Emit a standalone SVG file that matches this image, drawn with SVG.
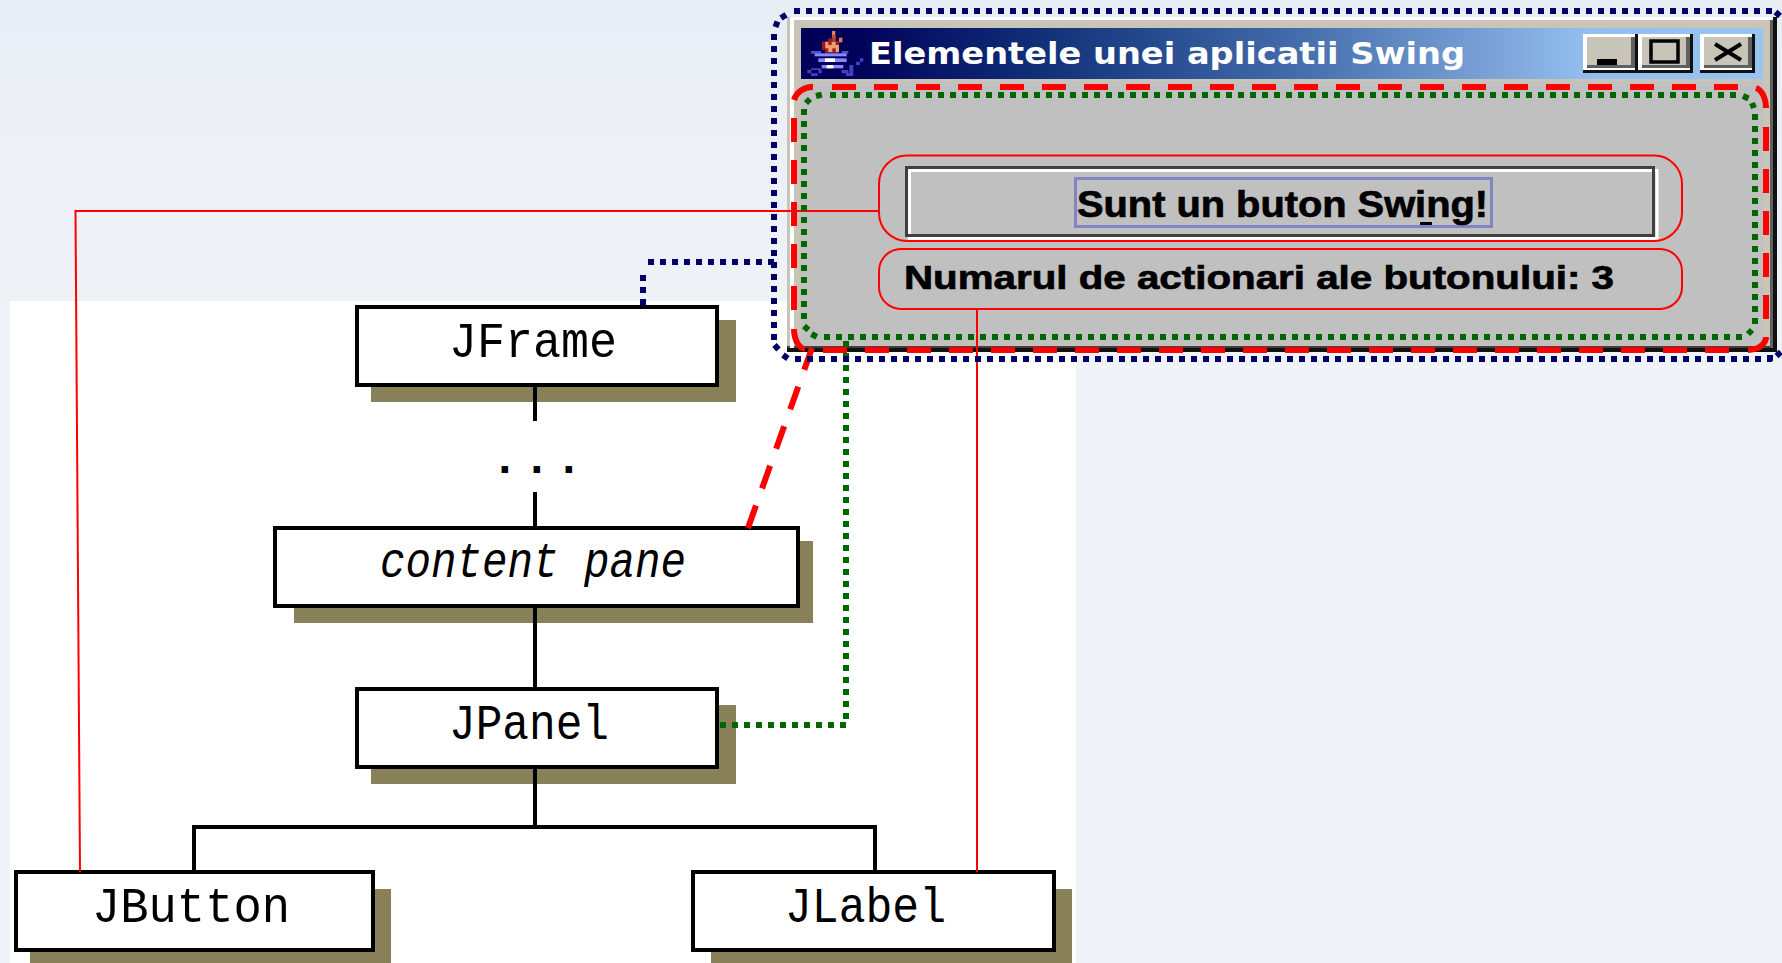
<svg xmlns="http://www.w3.org/2000/svg" width="1782" height="963" viewBox="0 0 1782 963">
<style>
.shadow{fill:#888058}
.box{fill:#fff;stroke:#000;stroke-width:4}
.nt{font-family:"Liberation Mono",monospace;font-size:50px;fill:#000}
.tree{fill:none;stroke:#000;stroke-width:4}
.blue{fill:none;stroke:#000066;stroke-width:6;stroke-dasharray:6 6}
.green{fill:none;stroke:#006600;stroke-width:6;stroke-dasharray:6 6}
.reddash{fill:none;stroke:#ff0000;stroke-width:6;stroke-dasharray:24 18}
.redarc{fill:none;stroke:#ff0000;stroke-width:6}
.thin{fill:none;stroke:#ff0000;stroke-width:2}
.pill{fill:none;stroke:#ff0000;stroke-width:2}
.st{font-family:"Liberation Sans",Arial,sans-serif;font-weight:bold;fill:#000;stroke:#000;stroke-width:0.7}
.face{fill:#c8c4b8}
.w{fill:#fff}.k{fill:#111}.g{fill:#606060}
</style>
<defs>
<linearGradient id="bg" x1="0" y1="0" x2="0" y2="1"><stop offset="0" stop-color="#e8ecf4"/><stop offset="0.12" stop-color="#ecf0f6"/><stop offset="0.35" stop-color="#eff2f7"/><stop offset="1" stop-color="#eff2f7"/></linearGradient>
<linearGradient id="tb" gradientUnits="userSpaceOnUse" x1="801" y1="0" x2="1763" y2="0"><stop offset="0" stop-color="#000058"/><stop offset="0.05" stop-color="#000058"/><stop offset="0.248" stop-color="#103078"/><stop offset="0.498" stop-color="#4068a8"/><stop offset="0.74" stop-color="#80a8dc"/><stop offset="0.81" stop-color="#92bcee"/><stop offset="1" stop-color="#99c4f0"/></linearGradient>
<g id="wb"><rect class="k" x="0" y="0" width="55" height="39"/><rect class="w" x="0" y="0" width="52" height="36"/><rect class="face" x="4" y="3" width="48" height="31"/><rect class="g" x="48" y="3" width="4" height="31"/><rect class="g" x="4" y="31" width="48" height="3"/></g>
</defs>
<rect width="1782" height="963" fill="url(#bg)"/>
<rect x="10" y="301" width="1066" height="662" fill="#fff"/>

<g id="JFrame"><rect class="shadow" x="371" y="320" width="365" height="82"/><rect class="box" x="357" y="307" width="360" height="78"/><text class="nt" x="449" y="357" textLength="168" lengthAdjust="spacingAndGlyphs">JFrame</text></g>
<g id="ellipsis"><text class="nt" font-weight="bold" style="font-size:46px" x="491 523 555" y="473">...</text></g>
<g id="contentPane"><rect class="shadow" x="294" y="541" width="519" height="82"/><rect class="box" x="275" y="528" width="523" height="78"/><text class="nt" font-style="italic" x="380" y="577" textLength="306" lengthAdjust="spacingAndGlyphs">content pane</text></g>
<g id="JPanel"><rect class="shadow" x="371" y="705" width="365" height="79"/><rect class="box" x="357" y="689" width="360" height="78"/><text class="nt" x="449" y="739" textLength="160" lengthAdjust="spacingAndGlyphs">JPanel</text></g>
<g id="JButton"><rect class="shadow" x="30" y="889" width="361" height="74"/><rect class="box" x="16" y="872" width="357" height="78"/><text class="nt" x="92" y="922" textLength="198" lengthAdjust="spacingAndGlyphs">JButton</text></g>
<g id="JLabel"><rect class="shadow" x="711" y="889" width="361" height="74"/><rect class="box" x="693" y="872" width="361" height="78"/><text class="nt" x="785" y="922" textLength="161" lengthAdjust="spacingAndGlyphs">JLabel</text></g>

<g id="window">
<rect class="k" x="787" y="17" width="990" height="335"/>
<rect class="face" x="787" y="17" width="986" height="331"/>
<rect x="787" y="346" width="986" height="2" fill="#404040"/>
<rect x="1770" y="20" width="3" height="328" fill="#606060"/>
<rect class="w" x="790" y="17" width="983" height="3"/>
<rect class="w" x="790" y="17" width="4" height="331"/>
<rect x="801" y="28" width="962" height="51" fill="url(#tb)"/>
<rect x="801" y="82" width="962" height="263" fill="#c0c0c0"/>
<g id="javaIcon" transform="translate(800 25) scale(0.3333)">
<rect x="75" y="50" width="42" height="32" fill="#e8a070"/><rect x="96" y="18" width="10" height="22" fill="#e08050"/><rect x="117" y="38" width="10" height="14" fill="#e08050"/><rect x="85" y="40" width="12" height="10" fill="#a81818"/><rect x="97" y="30" width="10" height="20" fill="#c04030"/><rect x="66" y="50" width="10" height="24" fill="#a81818"/><rect x="75" y="70" width="10" height="12" fill="#a81818"/><rect x="107" y="50" width="10" height="10" fill="#a81818"/><rect x="97" y="70" width="10" height="12" fill="#a81818"/><rect x="85" y="50" width="10" height="10" fill="#a81818"/>
<rect x="33" y="78" width="30" height="8" fill="#5050c8"/><rect x="125" y="78" width="20" height="8" fill="#5050c8"/><rect x="44" y="85" width="96" height="9" fill="#8888ff"/><rect x="55" y="100" width="85" height="11" fill="#8888ff"/><rect x="75" y="100" width="30" height="11" fill="#fff"/><rect x="65" y="120" width="65" height="10" fill="#8888ff"/><rect x="80" y="120" width="20" height="10" fill="#fff"/>
<path d="M22 135h12v10h-12zM33 130h30v5h-30zM33 145h20v8h-20zM55 135h10v10h-10zM125 135h20v10h-20zM148 120h12v25h-12zM138 145h22v8h-22zM168 110h12v10h-12zM180 100h10v10h-10z" fill="#4040c0"/>
</g>
<text x="869" y="64" font-family="'DejaVu Sans',sans-serif" font-weight="bold" font-size="31" fill="#fff" textLength="596" lengthAdjust="spacingAndGlyphs">Elementele unei aplicatii Swing</text>
<use href="#wb" x="1583" y="34"/><use href="#wb" x="1638" y="34"/><use href="#wb" x="1700" y="34"/>
<rect x="1597" y="59" width="20" height="6" fill="#000"/>
<rect x="1651" y="41" width="27" height="21" fill="none" stroke="#000" stroke-width="3.5"/>
<path d="M1715 44L1741 60M1741 44L1715 60" fill="none" stroke="#000" stroke-width="4"/>
</g>

<g id="swingButton">
<path d="M909.5 170.5H1657V238.5H909.5Z" fill="none" stroke="#fff" stroke-width="3"/>
<rect x="906.5" y="167.5" width="747" height="68" fill="none" stroke="#404040" stroke-width="3"/>
<rect x="1075.5" y="178.5" width="416" height="48" fill="none" stroke="#8484c4" stroke-width="3"/>
<text class="st" x="1077" y="217" font-size="36" textLength="411" lengthAdjust="spacingAndGlyphs">Sunt un buton Swing!</text>
<rect x="1420" y="222" width="12" height="3" fill="#000"/>
<rect class="pill" x="879" y="155.5" width="803" height="85.5" rx="28"/>
</g>
<g id="swingLabel">
<text class="st" x="904" y="289" font-size="34" textLength="710" lengthAdjust="spacingAndGlyphs">Numarul de actionari ale butonului: 3</text>
<rect class="pill" x="879" y="249" width="803" height="60" rx="22"/>
</g>

<g id="connectors">
<path class="tree" d="M535 387V421M535 492V528M535 608V689M535 769V827M194 872V827H875V872"/>
<path class="thin" d="M879 211H75.500L80 872"/>
<path class="thin" d="M977 309V872"/>
<path class="reddash" d="M748 528L812 348"/>
<path class="green" d="M720 725H846V338"/>
<path class="blue" d="M643 305V270"/>
<path class="blue" d="M648 262H775"/>
</g>

<g id="frameOutline"><path class="blue" d="M794 11H1772M774 34V343M795 359H1772M775.5 27L777.5 21.5M781 18L786.5 14.5M1775.5 12L1780 16M774.5 345L779 350M783 355L788 358.5M1767 358L1773 358M1776.5 356L1781 352"/></g>
<g id="rootPaneOutline"><path class="reddash" d="M832 87H1738M1766 127V319M823 350H1729M794 118V310"/><path class="redarc" d="M813 87A19 19 0 0 0 794 100M1756 88A13 20 0 0 1 1766 108M1766 337A18 13 0 0 1 1748 350M794 329A12 20 0 0 0 805 349"/></g>
<g id="contentPaneOutline"><path class="green" d="M830 95H1736M804 109V320M1755 114V325M824 337H1743M816 96L822 94.5M806 103L810 99M1743 96L1748.5 98.5M1752 103L1754 108M1748 334L1752 330M804 326L808.5 330M811.5 334L817 337"/></g>
</svg>
